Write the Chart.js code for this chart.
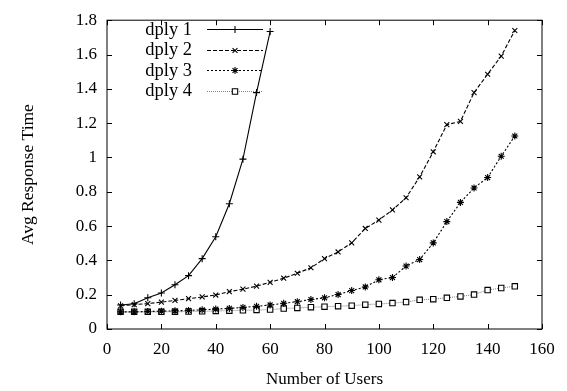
<!DOCTYPE html>
<html><head><meta charset="utf-8">
<script src="https://cdn.jsdelivr.net/npm/chart.js@4/dist/chart.umd.min.js"></script>
<style>html,body{margin:0;padding:0;background:#fff}#wrap{width:567px;height:391px}</style>
</head><body><div id="wrap"><canvas id="c" width="567" height="391"></canvas></div>
<script>
const users = [5,10,15,20,25,30,35,40,45,50,55,60,65,70,75,80,85,90,95,100,105,110,115,120,125,130,135,140,145,150];
const seriesNames = ['dply 1','dply 2','dply 3','dply 4'];
const dply1 = [0.14,0.147,0.182,0.21,0.258,0.311,0.41,0.538,0.73,0.99,1.378,1.734];
const dply2 = [0.135,0.142,0.148,0.157,0.167,0.177,0.187,0.198,0.218,0.232,0.25,0.272,0.296,0.325,0.357,0.41,0.449,0.502,0.586,0.635,0.694,0.765,0.887,1.033,1.191,1.21,1.378,1.485,1.591,1.74];
const dply3 = [0.10,0.10,0.102,0.104,0.106,0.108,0.112,0.116,0.12,0.126,0.132,0.14,0.15,0.159,0.172,0.182,0.201,0.224,0.245,0.287,0.3,0.367,0.405,0.502,0.626,0.738,0.822,0.883,1.007,1.125];
const dply4 = [0.10,0.10,0.10,0.10,0.101,0.102,0.103,0.105,0.107,0.109,0.111,0.113,0.119,0.123,0.127,0.13,0.133,0.136,0.142,0.146,0.151,0.157,0.17,0.174,0.182,0.19,0.201,0.227,0.239,0.249];
const xTicks = [0,20,40,60,80,100,120,140,160];
const yTicks = [0,0.2,0.4,0.6,0.8,1,1.2,1.4,1.6,1.8];

const FONT = 'Liberation Serif';
const pts = arr => arr.map((v,i)=>({x:users[i], y:v}));

const styles = [
  {borderColor:'#000', borderDash:[], pointStyle:'cross', r:3.5},
  {borderColor:'#000', borderDash:[4,2], pointStyle:'crossRot', r:3.5},
  {borderColor:'#000', borderDash:[2,2], pointStyle:'star', r:3.5},
  {borderColor:'#888', borderDash:[1,1], pointStyle:'rect', r:3.8}
];
const values = [dply1,dply2,dply3,dply4];
const datasets = values.map((v,i)=>({
  label: seriesNames[i],
  data: pts(v),
  borderColor: styles[i].borderColor,
  borderDash: styles[i].borderDash,
  borderWidth: 1.1,
  pointStyle: styles[i].pointStyle,
  pointRadius: styles[i].r,
  pointBorderColor: '#000',
  pointBackgroundColor: '#fff',
  pointBorderWidth: 1.1,
  tension: 0,
  fill: false
}));

const frame = {
  id:'frame',
  afterDatasetsDraw(chart){
    const ctx = chart.ctx, a = chart.chartArea;
    const xs = chart.scales.x, ys = chart.scales.y;
    ctx.save();
    ctx.strokeStyle = '#000'; ctx.lineWidth = 1; ctx.setLineDash([]);
    ctx.strokeRect(a.left, a.top, a.right-a.left, a.bottom-a.top);
    const L = 5;
    ctx.beginPath();
    xs.ticks.forEach(t=>{
      const px = Math.round(xs.getPixelForValue(t.value))+0.5;
      ctx.moveTo(px, a.bottom); ctx.lineTo(px, a.bottom-L);
      ctx.moveTo(px, a.top); ctx.lineTo(px, a.top+L);
    });
    ys.ticks.forEach(t=>{
      const py = Math.round(ys.getPixelForValue(t.value))+0.5;
      ctx.moveTo(a.left, py); ctx.lineTo(a.left+L, py);
      ctx.moveTo(a.right, py); ctx.lineTo(a.right-L, py);
    });
    ctx.stroke();
    // legend
    ctx.font = '18.5px "' + FONT + '"';
    ctx.textAlign = 'right'; ctx.textBaseline = 'middle';
    chart.data.datasets.forEach((ds,i)=>{
      const y = 29 + i*20.5;
      ctx.fillStyle = '#000';
      ctx.fillText(ds.label, 192, y+1);
      const yy = Math.round(y)+0.5;
      ctx.strokeStyle = ds.borderColor; ctx.lineWidth = 1.1;
      ctx.setLineDash(ds.borderDash);
      ctx.beginPath(); ctx.moveTo(207, yy); ctx.lineTo(263, yy); ctx.stroke();
      ctx.setLineDash([]);
      ctx.strokeStyle = '#000'; ctx.fillStyle = '#fff';
      Chart.helpers.drawPoint(ctx, {pointStyle: ds.pointStyle, radius: ds.pointRadius, borderWidth: 1.1, rotation: 0}, 235, yy);
    });
    ctx.restore();
  }
};

new Chart(document.getElementById('c'), {
  type: 'line',
  data: { datasets },
  options: {
    responsive: false,
    animation: false,
    devicePixelRatio: 1,
    layout: { padding: {top: 13, right: 25, left: 0, bottom: 0} },
    plugins: { legend: {display:false}, tooltip: {enabled:false} },
    scales: {
      x: {
        type: 'linear', min: 0, max: 160,
        afterBuildTicks: s => { s.ticks = xTicks.map(v=>({value:v})); },
        afterFit: s => { s.height = 62; },
        grid: {display:false, drawTicks:false},
        border: {display:false},
        ticks: {color:'#000', font:{family:FONT, size:17}, padding: 10, maxRotation:0, autoSkip:false},
        title: {display:true, text:'Number of Users', color:'#000', font:{family:FONT, size:17}, padding:{top:0, bottom:1}}
      },
      y: {
        type: 'linear', min: 0, max: 1.8,
        afterBuildTicks: s => { s.ticks = yTicks.map(v=>({value:v})); },
        afterFit: s => { s.width = 107; },
        grid: {display:false, drawTicks:false},
        border: {display:false},
        ticks: {color:'#000', font:{family:FONT, size:17}, padding: 10, autoSkip:false,
          callback: v => String(Math.round(v*10)/10)},
        title: {display:true, text:'Avg Response Time', color:'#000', font:{family:FONT, size:17.5}, padding:{top:18, bottom:0}}
      }
    }
  },
  plugins: [frame]
});
</script></body></html>
